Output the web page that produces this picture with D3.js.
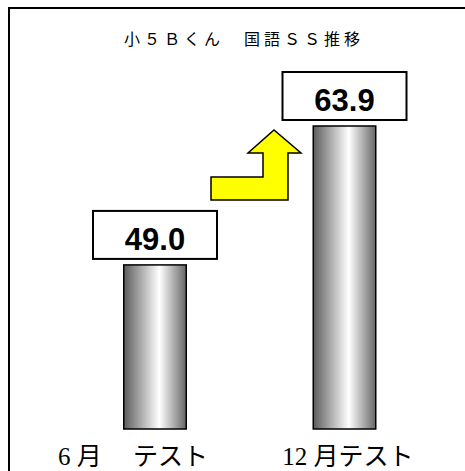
<!DOCTYPE html>
<html>
<head>
<meta charset="utf-8">
<script src="https://cdn.jsdelivr.net/npm/d3@7/dist/d3.min.js"></script>
<style>
html,body{margin:0;padding:0;background:#fff;overflow:hidden;}
</style>
</head>
<body>
<script>
const title = "小５Ｂくん　国語ＳＳ推移";
const categories = ["6 月　 テスト", "12 月テスト"];
const values = [49.0, 63.9];
const valueLabels = ["49.0", "63.9"];

const W = 465, H = 471;
const svg = d3.select("body").append("svg").attr("width", W).attr("height", H);

const defs = svg.append("defs");
const grad = defs.append("linearGradient").attr("id", "barGrad")
  .attr("x1", "0%").attr("x2", "100%").attr("y1", "0%").attr("y2", "0%");
grad.append("stop").attr("offset", "0%").attr("stop-color", "#5c5c5c");
grad.append("stop").attr("offset", "57%").attr("stop-color", "#ffffff");
grad.append("stop").attr("offset", "100%").attr("stop-color", "#666666");

// frame
svg.append("rect").attr("x", 9).attr("y", 8).attr("width", 470).attr("height", 480)
  .attr("fill", "#fff").attr("stroke", "#000").attr("stroke-width", 2);

// title
svg.append("text").attr("x", 244).attr("y", 45)
  .attr("text-anchor", "middle")
  .attr("font-family", "'Noto Sans CJK JP', sans-serif")
  .attr("font-size", 16).attr("letter-spacing", 4)
  .attr("fill", "#000").text(title);

const x = d3.scalePoint().domain(categories).range([155, 344.5]);
const xLabel = d3.scalePoint().domain(categories).range([133, 348]);
const bw = 62.5;
const y = d3.scaleLinear().domain([31.4, 63.9]).range([429, 126]);

// bars
svg.selectAll("rect.bar").data(values).enter().append("rect")
  .attr("class", "bar")
  .attr("x", (d, i) => x(categories[i]) - bw / 2)
  .attr("y", d => y(d))
  .attr("width", bw)
  .attr("height", d => y.range()[0] - y(d))
  .attr("fill", "url(#barGrad)")
  .attr("stroke", "#000").attr("stroke-width", 1.5);

// value boxes
const boxW = 124, boxH = 48, gap = 6;
const g = svg.selectAll("g.vl").data(values).enter().append("g").attr("class", "vl");
g.append("rect")
  .attr("x", (d, i) => x(categories[i]) - boxW / 2)
  .attr("y", d => y(d) - gap - boxH)
  .attr("width", boxW).attr("height", boxH)
  .attr("fill", "#fff").attr("stroke", "#000").attr("stroke-width", 2);
g.append("text")
  .attr("x", (d, i) => x(categories[i]))
  .attr("y", d => y(d) - gap - 9)
  .attr("text-anchor", "middle")
  .attr("font-family", "'Liberation Sans', Arial, sans-serif")
  .attr("font-weight", "bold").attr("font-size", 31)
  .attr("fill", "#000")
  .text((d, i) => valueLabels[i]);

// arrow (annotation)
const ax = 211, ay = 200;
const arrowPts = [[0,0],[0,-23],[52,-23],[52,-47],[37,-47],[63,-70],[90,-47],[77,-47],[77,0]];
svg.append("path")
  .attr("d", d3.line()(arrowPts.map(p => [ax + p[0], ay + p[1]])) + "Z")
  .attr("fill", "#ffff00").attr("stroke", "#000").attr("stroke-width", 1.5)
  .attr("stroke-linejoin", "miter");

// category labels
svg.selectAll("text.cat").data(categories).enter().append("text")
  .attr("class", "cat")
  .attr("x", d => xLabel(d))
  .attr("y", 465)
  .attr("text-anchor", "middle")
  .attr("font-family", "'Liberation Serif', 'Noto Sans CJK JP', serif")
  .attr("font-size", 25)
  .attr("fill", "#000")
  .style("white-space", "pre")
  .text(d => d);
</script>
</body>
</html>
